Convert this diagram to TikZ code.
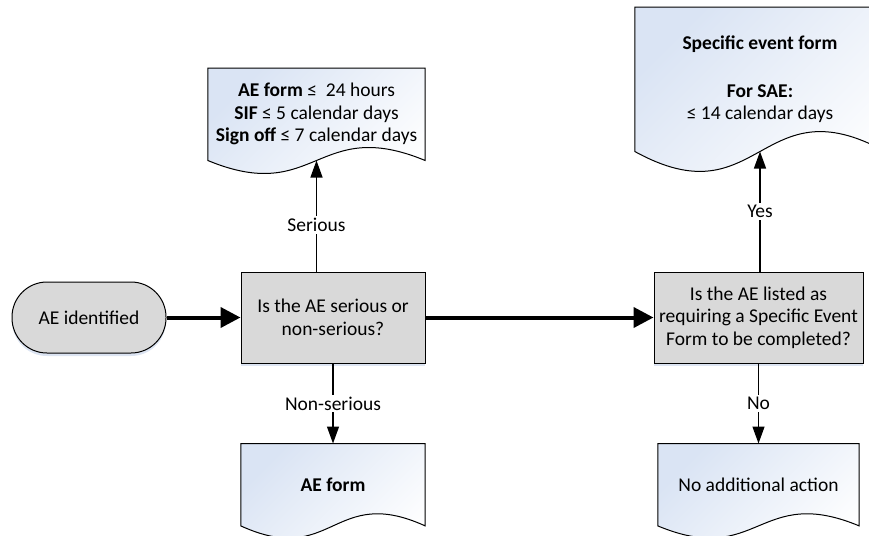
\documentclass[tikz,border=0pt]{standalone}
\usepackage{fontspec}
\setmainfont{Carlito}
\usetikzlibrary{positioning, arrows.meta, calc, backgrounds, shadows}

\definecolor{boxgray}{RGB}{217,217,217}
\definecolor{docblue}{RGB}{218,228,244}
\definecolor{shadowblue}{RGB}{205,216,236}

\begin{document}
\begin{tikzpicture}[
        x=1pt, y=-1pt,
        font=\fontsize{19.5}{22.5}\selectfont,
        % Define styles for the nodes
        base_node/.style={draw, align=center, line width=1pt, inner sep=0pt},
        start_node/.style={base_node, fill=boxgray, rounded corners=35pt, minimum width=154pt, minimum height=71pt,
            drop shadow={shadow xshift=0pt, shadow yshift=-3pt, fill=shadowblue, opacity=0.7}},
        decision/.style={base_node, fill=boxgray, minimum height=91pt,
            drop shadow={shadow xshift=0pt, shadow yshift=-3pt, fill=shadowblue, opacity=0.7}},
        doc_node/.style={align=center, inner sep=0pt},
        doc_outline/.style={draw, line width=1pt, top color=docblue, bottom color=white, shading angle=45},
        arrow/.style={-{Triangle[length=17pt, width=12pt]}, line width=1.3pt},
        main_arrow/.style={-{Triangle[length=20pt, width=20pt]}, line width=4pt},
        branch_label/.style={fill=white, inner sep=2pt}
    ]

    \useasboundingbox (0,0) rectangle (869,535);

    % ==============================================
    % === MAIN ROW (start and the two questions) ===
    % ==============================================
    \node (ae_start) [start_node] at (89,317.5) {AE identified};
    \node (q_serious) [decision, minimum width=184pt, right=74pt of ae_start] {Is the AE serious or\\non-serious?};
    \node (q_listed) [decision, minimum width=209pt, right=228pt of q_serious] {Is the AE listed as\\requiring a Specific Event\\Form to be completed?};

    \draw [main_arrow] (ae_start) -- (q_serious);
    \draw [main_arrow] (q_serious) -- (q_listed);

    % ==============================================
    % === DOCUMENTS (above and below the questions) ===
    % ==============================================
    \node (serious_doc) [doc_node, minimum width=217pt, minimum height=92pt, above=111pt of q_serious, xshift=-16.5pt]
        {\textbf{AE form} ≤~ 24 hours\\\textbf{SIF} ≤ 5 calendar days\\\textbf{Sign off} ≤ 7 calendar days};
    \node (specific_doc) [doc_node, minimum width=250pt, minimum height=144pt, above=120pt of q_listed, xshift=1.5pt]
        {\textbf{Specific event form}\\[25pt]\textbf{For SAE:}\\≤ 14 calendar days};
    \node (ae_form) [doc_node, minimum width=184pt, minimum height=82pt, below=80pt of q_serious] {\textbf{AE form}};
    \node (no_action) [doc_node, minimum width=201pt, minimum height=82pt, below=80pt of q_listed] {No additional action};

    % wavy document outlines behind the texts
    \begin{scope}[on background layer]
        \path [doc_outline] (serious_doc.north west) -- (serious_doc.north east) -- (serious_doc.south east)
            .. controls ($(serious_doc.south)+(0,-45)$) and ($(serious_doc.south)+(0,45)$) .. (serious_doc.south west) -- cycle;
        \path [doc_outline] (specific_doc.north west) -- (specific_doc.north east) -- (specific_doc.south east)
            .. controls ($(specific_doc.south)+(0,-69)$) and ($(specific_doc.south)+(0,69)$) .. (specific_doc.south west) -- cycle;
        \path [doc_outline] (ae_form.north west) -- (ae_form.north east) -- (ae_form.south east)
            .. controls ($(ae_form.south)+(0,-42)$) and ($(ae_form.south)+(0,42)$) .. (ae_form.south west) -- cycle;
        \path [doc_outline] (no_action.north west) -- (no_action.north east) -- (no_action.south east)
            .. controls ($(no_action.south)+(0,-42)$) and ($(no_action.south)+(0,42)$) .. (no_action.south west) -- cycle;
    \end{scope}

    % branches
    \draw [arrow] (serious_doc.south |- q_serious.north) -- node [branch_label, pos=0.42] {Serious} (serious_doc.south);
    \draw [arrow] (q_serious) -- node [branch_label] {Non-serious} (ae_form);
    \draw [arrow] (specific_doc.south |- q_listed.north) -- node [branch_label] {Yes} (specific_doc.south);
    \draw [arrow] (q_listed) -- node [branch_label] {No} (no_action);

\end{tikzpicture}
\end{document}
